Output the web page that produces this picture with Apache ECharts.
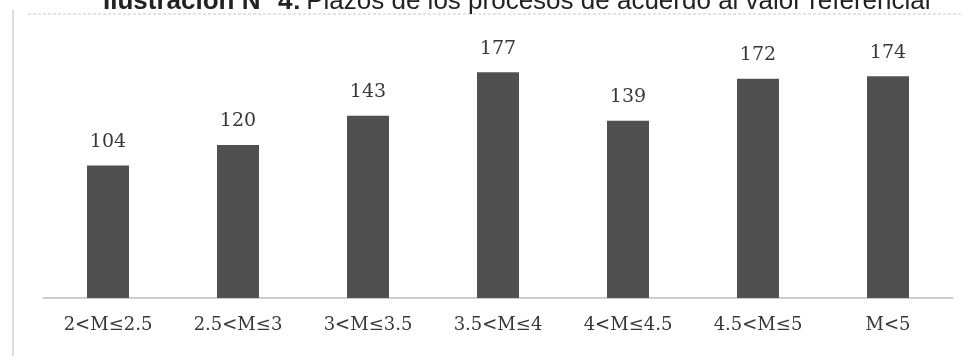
<!DOCTYPE html>
<html>
<head>
<meta charset="utf-8">
<script src="https://cdn.jsdelivr.net/npm/echarts@6/dist/echarts.min.js"></script>
<style>
  html, body { margin: 0; padding: 0; background: #fff; }
  #chart { width: 973px; height: 356px; }
</style>
</head>
<body>
<div id="chart"></div>
<script>
var categories = ['2<M≤2.5', '2.5<M≤3', '3<M≤3.5', '3.5<M≤4', '4<M≤4.5', '4.5<M≤5', 'M<5'];
var plazos = [104, 120, 143, 177, 139, 172, 174];

var chart = echarts.init(document.getElementById('chart'));
var option = {
  backgroundColor: '#fff',
  title: {
    text: '{b|Ilustración N° 4:} {n|Plazos de los procesos de acuerdo al valor referencial}',
    left: 98,
    top: -16,
    textStyle: {
      rich: {
        b: { fontFamily: 'Liberation Sans', fontWeight: 'bold', fontSize: 26, color: '#222' },
        n: { fontFamily: 'Liberation Sans', fontWeight: 'normal', fontSize: 26, color: '#222' }
      }
    }
  },
  graphic: [
    { type: 'line', shape: { x1: 28, y1: 14, x2: 962, y2: 14 },
      style: { stroke: '#c8c8c8', lineWidth: 1, lineDash: [3, 2] } },
    { type: 'line', shape: { x1: 13, y1: 10, x2: 13, y2: 356 },
      style: { stroke: '#d0d0d0', lineWidth: 1.5 } }
  ],
  grid: { left: 43, right: 20, top: 43, bottom: 58 },
  xAxis: {
    type: 'category',
    data: categories,
    axisTick: { show: false },
    axisLine: { lineStyle: { color: '#bdbdbd', width: 1.5 } },
    axisLabel: { fontFamily: 'DejaVu Serif', fontSize: 18, color: '#383838', margin: 18 }
  },
  yAxis: {
    type: 'value',
    min: 0,
    max: 200,
    show: false
  },
  series: [{
    type: 'bar',
    data: plazos,
    barWidth: 42,
    itemStyle: { color: '#505050' },
    label: {
      show: true,
      position: 'top',
      distance: 14,
      fontFamily: 'DejaVu Serif',
      fontSize: 19,
      color: '#383838'
    }
  }]
};
chart.setOption(option);
</script>
</body>
</html>
